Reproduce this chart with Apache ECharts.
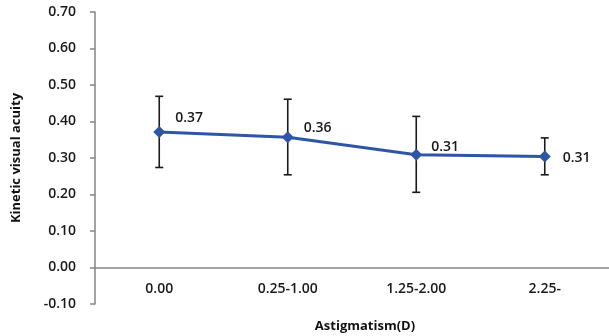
<!DOCTYPE html>
<html><head><meta charset="utf-8">
<script src="https://cdn.jsdelivr.net/npm/echarts@6/dist/echarts.min.js"></script>
<style>html,body{margin:0;padding:0;background:#fff}#c{width:609px;height:336px}</style>
</head><body><div id="c"></div>
<script>
var categories = ['0.00', '0.25-1.00', '1.25-2.00', '2.25-'];
var means = [0.371, 0.357, 0.309, 0.304];
var errLow = [0.274, 0.254, 0.206, 0.254];
var errHigh = [0.469, 0.461, 0.414, 0.355];
var pointLabels = ['0.37', '0.36', '0.31', '0.31'];
var yTicks = [-0.1, 0.7, 0.1];

var labelOffsets = [[2, -14], [2, -9], [1, -8], [4, 1]];
var font = '"Open Sans", "Liberation Sans", sans-serif';
var chart = echarts.init(document.getElementById('c'));
chart.setOption({
  animation: false,
  grid: {left: 95, right: 0, top: 12, bottom: 32, containLabel: false, outerBoundsMode: 'none'},
  xAxis: {
    type: 'category', data: categories,
    axisLine: {onZero: true, lineStyle: {color: '#858585', width: 1.5}},
    axisTick: {show: false},
    axisLabel: {margin: -22, color: '#1a1a1a', fontFamily: font, fontWeight: 600, fontSize: 14},
    name: 'Astigmatism(D)', nameLocation: 'middle', nameGap: 16, nameMoveOverlap: false,
    nameTextStyle: {color: '#111', fontFamily: font, fontWeight: 'bold', fontSize: 13, padding: [0, 0, 0, 26]}
  },
  yAxis: {
    type: 'value', min: yTicks[0], max: yTicks[1], interval: yTicks[2],
    axisLine: {show: true, lineStyle: {color: '#858585', width: 1.5}},
    axisTick: {show: true, length: 5, lineStyle: {color: '#858585', width: 1.5}},
    splitLine: {show: false},
    axisLabel: {margin: 19, color: '#1a1a1a', fontFamily: font, fontWeight: 600, fontSize: 14,
      formatter: function (v) { return v.toFixed(2); }},
    name: 'Kinetic visual acuity', nameLocation: 'middle', nameGap: 72, nameMoveOverlap: false,
    nameTextStyle: {color: '#111', fontFamily: font, fontWeight: 'bold', fontSize: 13}
  },
  series: [
    {
      type: 'custom',
      data: categories.map(function (c, i) { return [i, errLow[i], errHigh[i]]; }),
      z: 1,
      renderItem: function (params, api) {
        var lo = api.coord([api.value(0), api.value(1)]);
        var hi = api.coord([api.value(0), api.value(2)]);
        var w = 4;
        var st = {stroke: '#1a1a1a', lineWidth: 1.6};
        return {type: 'group', children: [
          {type: 'line', shape: {x1: lo[0], y1: lo[1], x2: hi[0], y2: hi[1]}, style: st},
          {type: 'line', shape: {x1: lo[0] - w, y1: lo[1], x2: lo[0] + w, y2: lo[1]}, style: st},
          {type: 'line', shape: {x1: hi[0] - w, y1: hi[1], x2: hi[0] + w, y2: hi[1]}, style: st}
        ]};
      }
    },
    {
      type: 'line', z: 3,
      data: means.map(function (v, i) {
        return {value: v, label: {offset: labelOffsets[i], formatter: pointLabels[i]}};
      }),
      symbol: 'diamond', symbolSize: 12,
      lineStyle: {color: '#2F56A6', width: 3},
      itemStyle: {color: '#2F56A6'},
      label: {show: true, position: 'right', distance: 8, color: '#1a1a1a',
        fontFamily: font, fontWeight: 600, fontSize: 14}
    }
  ]
});
</script></body></html>
